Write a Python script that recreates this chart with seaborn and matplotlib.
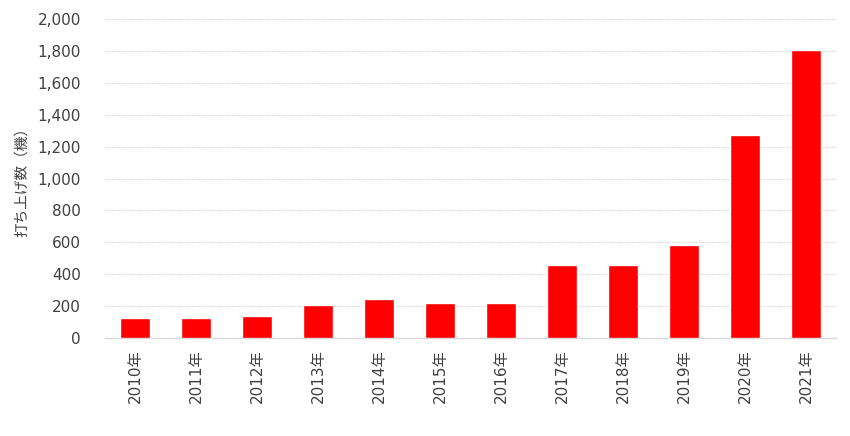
import numpy as np
import pandas as pd
import matplotlib
matplotlib.use('Agg')
import matplotlib.pyplot as plt
import seaborn as sns

# データ
years = ['2010年', '2011年', '2012年', '2013年', '2014年', '2015年',
         '2016年', '2017年', '2018年', '2019年', '2020年', '2021年']
launches = [122, 128, 136, 207, 241, 220, 222, 456, 456, 581, 1275, 1808]
ylabel = '打ち上げ数（機）'

df = pd.DataFrame({'year': years, 'count': launches})

sns.set_style('white')
plt.rcParams['font.family'] = ['DejaVu Sans', 'Noto Sans CJK JP']

fig = plt.figure(figsize=(8.5, 4.36), dpi=100)
ax = fig.add_axes([0.123, 0.225, 0.861, 0.731])

sns.barplot(data=df, x='year', y='count', color='#ff0000', width=0.5,
            saturation=1, ax=ax, zorder=3)

ax.set_ylim(0, 2000)
ax.set_yticks(np.arange(0, 2001, 200))
ax.set_yticklabels([f'{v:,}' for v in range(0, 2001, 200)])
ax.set_xlim(-0.5, len(years) - 0.5)
ax.yaxis.grid(True, color='#d2d2d2', linestyle=(0, (1, 1)), linewidth=0.8, zorder=0)
ax.xaxis.grid(False)

for s in ['top', 'right', 'left']:
    ax.spines[s].set_visible(False)
ax.spines['bottom'].set_color('#d9d9d9')
ax.spines['bottom'].set_linewidth(1)

ax.tick_params(axis='x', labelrotation=90, labelsize=11, colors='#404040', length=0, pad=8)
ax.tick_params(axis='y', labelsize=11, colors='#404040', length=0, pad=17)
ax.set_xlabel('')
ax.set_ylabel(ylabel, fontsize=10.5, color='#404040', labelpad=6,
              family=['Noto Sans CJK JP', 'DejaVu Sans'])

plt.savefig('out.png', dpi=100)
